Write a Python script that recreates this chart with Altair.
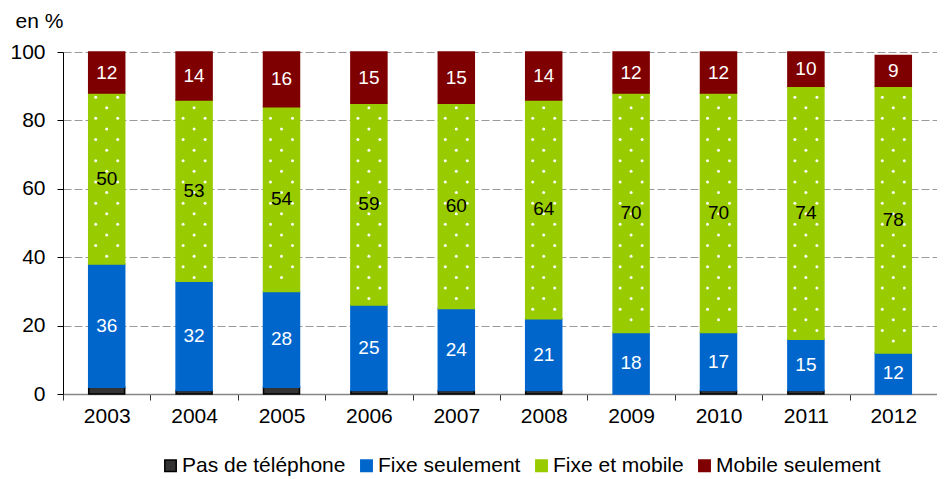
import altair as alt
import pandas as pd

years = ["2003", "2004", "2005", "2006", "2007", "2008", "2009", "2010", "2011", "2012"]
series = ["Pas de téléphone", "Fixe seulement", "Fixe et mobile", "Mobile seulement"]
no_phone = [2, 1, 2, 1, 1, 1, 0, 1, 1, 0]
fixe_seul = [36, 32, 28, 25, 24, 21, 18, 17, 15, 12]
fixe_mobile = [50, 53, 54, 59, 60, 64, 70, 70, 74, 78]
mobile_seul = [12, 14, 16, 15, 15, 14, 12, 12, 10, 9]

fill_colors = ["#333333", "#0066CC", "#99CC00", "#7F0000"]
stroke_colors = ["#000000", "#0066CC", "#99CC00", "#7F0000"]
text_colors = ["#FFFFFF", "#FFFFFF", "#000000", "#FFFFFF"]

rows = []
for vals, s in zip([no_phone, fixe_seul, fixe_mobile, mobile_seul], series):
    for y, v in zip(years, vals):
        rows.append({"year": y, "series": s, "order": series.index(s), "value": v})
df = pd.DataFrame(rows)

FONT = "Liberation Sans"

base = (
    alt.Chart(df)
    .transform_filter("datum.value > 0")
    .transform_stack(
        stack="value",
        groupby=["year"],
        as_=["y0", "y1"],
        sort=[alt.SortField("order", order="ascending")],
    )
    .transform_calculate(mid="(datum.y0 + datum.y1) / 2")
)

xscale = alt.Scale(paddingInner=0, paddingOuter=0)
yscale = alt.Scale(domain=[0, 100])

x_axis = alt.Axis(
    title=None, labelAngle=0, labelFont=FONT, labelFontSize=21, labelColor="#000000",
    domainColor="#868686", domainWidth=1.5, tickColor="#333333", tickSize=6,
    tickBand="extent", labelPadding=5, grid=False,
)
y_axis = alt.Axis(
    values=[0, 20, 40, 60, 80, 100], title="en %", titleAngle=0, titleAlign="left",
    titleBaseline="alphabetic", titleX=-48, titleY=-25, titleFont=FONT,
    titleFontSize=21, titleFontWeight="normal", titleColor="#000000",
    labelFont=FONT, labelFontSize=21, labelColor="#000000", labelPadding=12,
    domainColor="#000000", domainWidth=1, tickColor="#000000", tickSize=6,
    grid=True, gridColor="#9A9A9A", gridDash=[8, 3], gridWidth=1,
)

legend = alt.Legend(
    title=None, orient="none", legendX=97, legendY=403, direction="horizontal",
    symbolType="square", symbolSize=130, symbolStrokeWidth=1.5,
    labelFont=FONT, labelFontSize=21, labelColor="#000000", labelOffset=1,
    labelLimit=400, columnPadding=10,
)

X = alt.X("year:N", scale=xscale, axis=x_axis, sort=years)

bars = base.mark_bar(size=36, strokeWidth=1.5).encode(
    x=X,
    y=alt.Y("y0:Q", scale=yscale, axis=y_axis),
    y2="y1:Q",
    fill=alt.Fill("series:N", scale=alt.Scale(domain=series, range=fill_colors), legend=legend),
    stroke=alt.Stroke("series:N", scale=alt.Scale(domain=series, range=stroke_colors), legend=legend),
)

dots = (
    base.transform_filter("datum.series == 'Fixe et mobile'")
    .transform_calculate(rowsq="sequence(ceil(datum.y0 / 3.1 + 0.35), floor(datum.y1 / 3.1 - 0.35) + 1)")
    .transform_flatten(["rowsq"])
    .transform_calculate(yd="datum.rowsq * 3.1", dxs="datum.rowsq % 2 == 0 ? [-11, 11] : [0]")
    .transform_flatten(["dxs"])
    .mark_circle(size=9, color="#FFFFFF", opacity=0.95, xOffset=alt.ExprRef(expr="datum.dxs"))
    .encode(
        x=X,
        y=alt.Y("yd:Q", scale=yscale, axis=y_axis),
    )
)

labels = (
    base.transform_filter("datum.series != 'Pas de téléphone'")
    .mark_text(font=FONT, fontSize=19, baseline="middle", align="center")
    .encode(
        x=X,
        y=alt.Y("mid:Q", scale=yscale, axis=y_axis),
        text=alt.Text("value:Q"),
        color=alt.Color("series:N", scale=alt.Scale(domain=series, range=text_colors), legend=None),
    )
)

chart = (
    alt.layer(bars, dots, labels)
    .properties(
        width=874, height=342,
        autosize=alt.AutoSizeParams(type="none"),
        padding={"left": 55, "top": 44, "right": 0, "bottom": 82},
    )
    .configure_view(stroke=None)
)

chart.save("out.html", embed_options={"renderer": "svg", "actions": False})
